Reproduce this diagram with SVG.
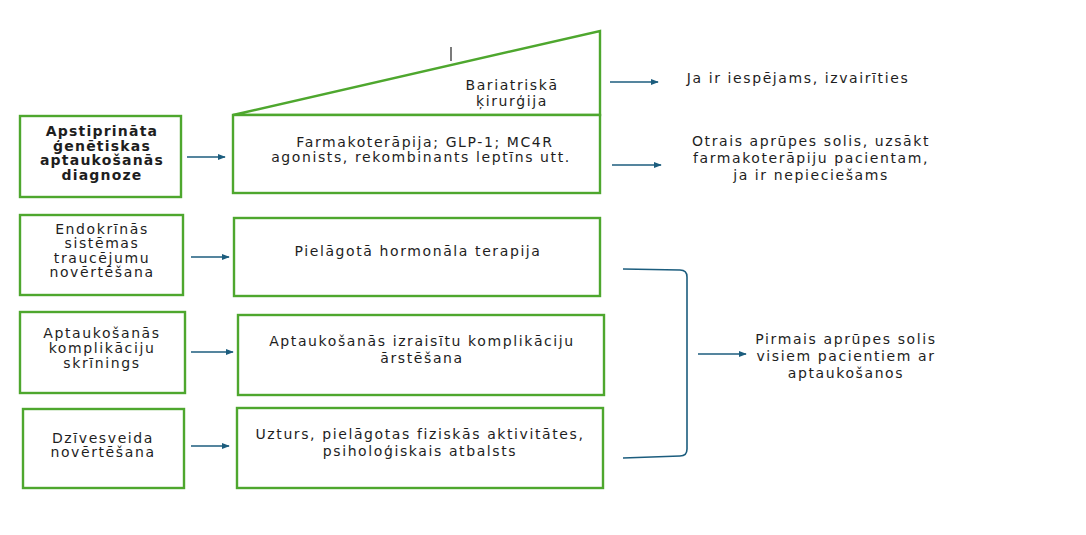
<svg xmlns="http://www.w3.org/2000/svg" width="1086" height="535" viewBox="0 0 1086 535">
<defs>
<marker id="ah" viewBox="0 0 10 10" refX="9" refY="5" markerWidth="8" markerHeight="6" markerUnits="userSpaceOnUse" orient="auto" preserveAspectRatio="none">
<path d="M0,0 L10,5 L0,10 z" fill="#1c5d7e"/>
</marker>
</defs>
<style>
.box{fill:#fff;stroke:#4ea72e;stroke-width:2.4}
.t{font-family:"DejaVu Sans","Liberation Sans",sans-serif;font-size:14px;letter-spacing:1.6px;fill:#1e1e1e;text-anchor:middle}
.b{font-weight:bold;letter-spacing:1.2px}
.c{fill:none;stroke:#1c5d7e;stroke-width:1.6}
</style>
<rect width="1086" height="535" fill="#fff"/>

<g id="n-diagnoze">
<rect class="box" x="20" y="116" width="161" height="81"/>
<text class="t b" x="102" y="136">Apstiprināta</text>
<text class="t b" x="102" y="151">ģenētiskas</text>
<text class="t b" x="102" y="165">aptaukošanās</text>
<text class="t b" x="102" y="180">diagnoze</text>
</g>

<g id="n-bariatriska">
<polygon class="box" points="233,115 600,31 600,115"/>
<line x1="451" y1="47" x2="451" y2="61" stroke="#222" stroke-width="1.2"/>
<text class="t" x="512" y="90">Bariatriskā</text>
<text class="t" x="512" y="106">ķirurģija</text>
</g>

<g id="n-farmako">
<rect class="box" x="233" y="115" width="367" height="78"/>
<text class="t" x="425" y="147">Farmakoterāpija; GLP-1; MC4R</text>
<text class="t" x="421" y="162">agonists, rekombinants leptīns utt.</text>
</g>

<g id="n-endokr">
<rect class="box" x="20" y="215" width="163" height="80"/>
<text class="t" x="102" y="234">Endokrīnās</text>
<text class="t" x="102" y="248">sistēmas</text>
<text class="t" x="102" y="263">traucējumu</text>
<text class="t" x="102" y="277">novērtēšana</text>
</g>

<g id="n-hormon">
<rect class="box" x="234" y="218" width="366" height="78"/>
<text class="t" x="418" y="256">Pielāgotā hormonāla terapija</text>
</g>

<g id="n-skrinings">
<rect class="box" x="20" y="312" width="165" height="81"/>
<text class="t" x="102" y="338">Aptaukošanās</text>
<text class="t" x="102" y="353">komplikāciju</text>
<text class="t" x="102" y="368">skrīnings</text>
</g>

<g id="n-arstesana">
<rect class="box" x="238" y="315" width="366" height="80"/>
<text class="t" x="422" y="346">Aptaukošanās izraisītu komplikāciju</text>
<text class="t" x="422" y="363">ārstēšana</text>
</g>

<g id="n-dzivesveids">
<rect class="box" x="23" y="409" width="161" height="79"/>
<text class="t" x="103" y="443">Dzīvesveida</text>
<text class="t" x="103" y="457">novērtēšana</text>
</g>

<g id="n-uzturs">
<rect class="box" x="237" y="408" width="366" height="80"/>
<text class="t" x="420" y="439">Uzturs, pielāgotas fiziskās aktivitātes,</text>
<text class="t" x="420" y="456">psiholoģiskais atbalsts</text>
</g>

<g id="n-ja">
<text class="t" x="798" y="83">Ja ir iespējams, izvairīties</text>
</g>

<g id="n-otrais">
<text class="t" x="811" y="146">Otrais aprūpes solis, uzsākt</text>
<text class="t" x="811" y="163">farmakoterāpiju pacientam,</text>
<text class="t" x="811" y="180">ja ir nepieciešams</text>
</g>

<g id="n-pirmais">
<text class="t" x="846" y="344">Pirmais aprūpes solis</text>
<text class="t" x="846" y="361">visiem pacientiem ar</text>
<text class="t" x="846" y="378">aptaukošanos</text>
</g>

<g id="connectors">
<line class="c" x1="187" y1="157" x2="225" y2="157" marker-end="url(#ah)"/>
<line class="c" x1="191" y1="257" x2="229" y2="257" marker-end="url(#ah)"/>
<line class="c" x1="191" y1="352" x2="233" y2="352" marker-end="url(#ah)"/>
<line class="c" x1="191" y1="446" x2="229" y2="446" marker-end="url(#ah)"/>
<line class="c" x1="610" y1="82" x2="658" y2="82" marker-end="url(#ah)"/>
<line class="c" x1="612" y1="165" x2="661" y2="165" marker-end="url(#ah)"/>
<path class="c" d="M623,269 L680,270 Q687,270 687,277 L687,449 Q687,456 680,456 L623,458"/>
<line class="c" x1="698" y1="354" x2="746" y2="354" marker-end="url(#ah)"/>
</g>
</svg>
